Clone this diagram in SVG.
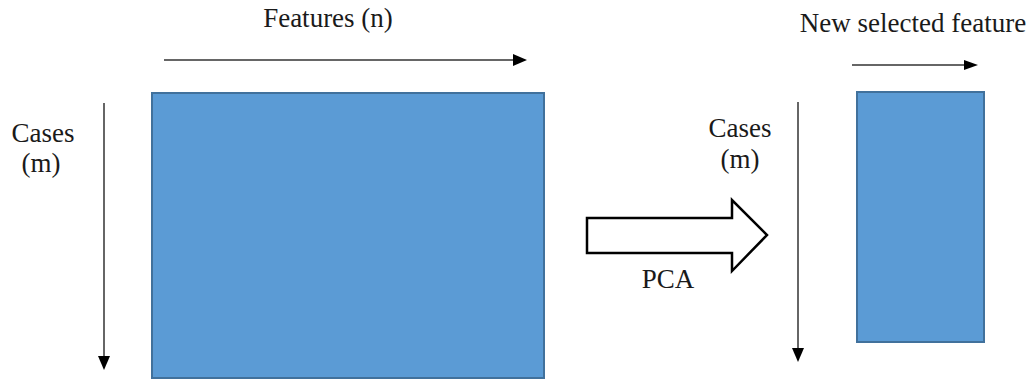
<svg xmlns="http://www.w3.org/2000/svg" width="1034" height="382" viewBox="0 0 1034 382">
  <style>
    .lbl { font-family: "Liberation Serif", "Times New Roman", Times, serif; font-size: 27px; fill: #1a1a1a; }
    .mat { fill: #5B9BD5; stroke: #41719C; stroke-width: 2; }
    .axis { stroke: #333333; stroke-width: 1.5; fill: none; }
    .head { fill: #000000; }
  </style>
  <rect width="1034" height="382" fill="#ffffff"/>

  <g id="matrix-original">
    <rect class="mat" x="152" y="93" width="392" height="285"/>
  </g>
  <g id="matrix-reduced">
    <rect class="mat" x="857" y="92" width="127" height="250"/>
  </g>
  <g id="pca-arrow">
    <path d="M587,218 L732,218 L732,200 L767,235 L732,271 L732,253 L587,253 Z" fill="#ffffff" stroke="#000" stroke-width="2.5" stroke-linejoin="miter"/>
    <text class="lbl" x="668" y="288" text-anchor="middle">PCA</text>
  </g>

  <g id="labels">
    <text class="lbl" x="328" y="27" text-anchor="middle">Features (n)</text>
    <text class="lbl" x="43" y="142" text-anchor="middle">Cases</text>
    <text class="lbl" x="41" y="172" text-anchor="middle">(m)</text>
    <text class="lbl" x="740" y="137" text-anchor="middle">Cases</text>
    <text class="lbl" x="740" y="168" text-anchor="middle">(m)</text>
    <text class="lbl" x="913" y="32" text-anchor="middle">New selected feature</text>
  </g>

  <g id="connectors">
    <line class="axis" x1="164" y1="60" x2="515" y2="60"/>
    <path class="head" d="M513,54 L527,60 L513,66 Z"/>
    <line class="axis" x1="104" y1="103" x2="104" y2="358"/>
    <path class="head" d="M98,356 L104,370 L110,356 Z"/>
    <line class="axis" x1="852" y1="65" x2="966" y2="65"/>
    <path class="head" d="M964,60 L978,65 L964,70 Z"/>
    <line class="axis" x1="798" y1="102" x2="798" y2="350"/>
    <path class="head" d="M792,348 L798,362 L804,348 Z"/>
  </g>
</svg>
